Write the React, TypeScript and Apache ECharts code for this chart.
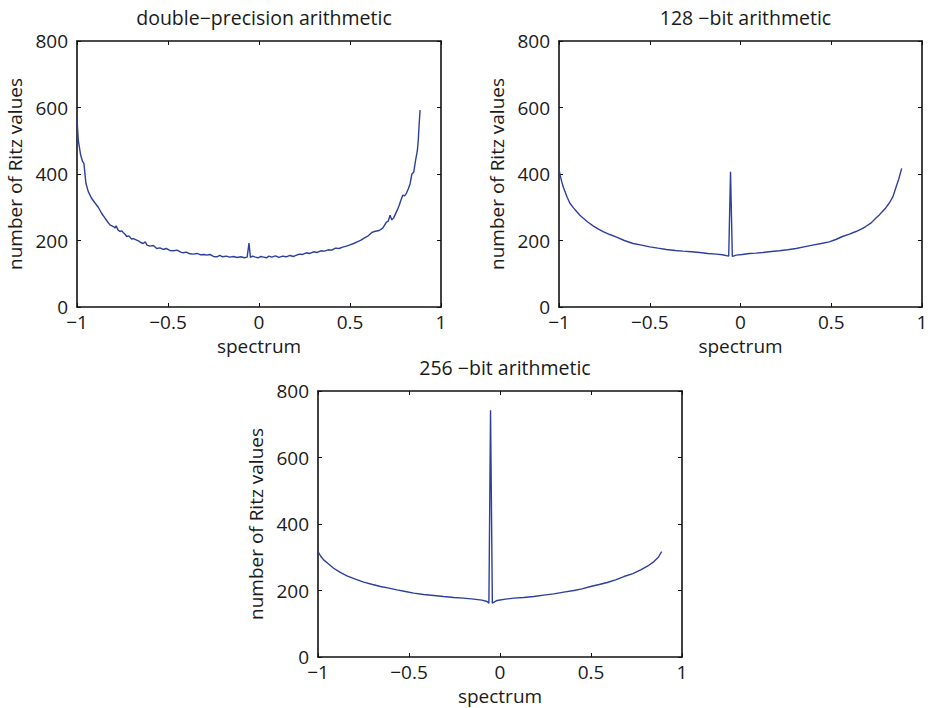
import React, { useEffect, useRef } from "react";
import * as echarts from "echarts";

const titles = ["double\u2212precision arithmetic", "128 \u2212bit arithmetic", "256 \u2212bit arithmetic"];
const xAxisName = "spectrum";
const yAxisName = "number of Ritz values";
const xTicks = [-1, -0.5, 0, 0.5, 1];
const yTicks = [0, 200, 400, 600, 800];

const doubleX = [
  -1.0, -0.993, -0.98, -0.969, -0.962, -0.951, -0.938, -0.92, -0.9, -0.883, -0.865, -0.846, -0.83, -0.819,
  -0.8, -0.79, -0.785, -0.775, -0.764, -0.755, -0.746, -0.735, -0.727, -0.715, -0.7, -0.69, -0.672, -0.66,
  -0.65, -0.636, -0.625, -0.615, -0.6, -0.58, -0.562, -0.545, -0.526, -0.51, -0.49, -0.471, -0.45, -0.43,
  -0.416, -0.4, -0.38, -0.361, -0.34, -0.32, -0.3, -0.287, -0.27, -0.25, -0.232, -0.215, -0.2, -0.18, -0.16,
  -0.14, -0.12, -0.1, -0.08, -0.065, -0.055, -0.047, -0.035, -0.02, -0.005, 0.01, 0.025, 0.04, 0.055, 0.07,
  0.09, 0.11, 0.13, 0.15, 0.17, 0.19, 0.21, 0.225, 0.24, 0.26, 0.28, 0.3, 0.32, 0.34, 0.36, 0.38, 0.4, 0.42,
  0.44, 0.46, 0.48, 0.5, 0.52, 0.54, 0.56, 0.58, 0.6, 0.62, 0.64, 0.66, 0.68, 0.7, 0.71, 0.72, 0.73, 0.74,
  0.75, 0.76, 0.77, 0.78, 0.79, 0.8, 0.81, 0.82, 0.83, 0.84, 0.85, 0.86, 0.87, 0.875, 0.88, 0.885,
];
const doubleY = [
  567, 502, 457, 437, 432, 372, 347, 327, 312, 300, 282, 267, 255, 247,
  242, 238, 244, 232, 227, 229, 224, 218, 212, 214, 204, 206, 201, 198,
  194, 191, 196, 186, 183, 185, 176, 178, 173, 176, 170, 169, 171, 165,
  163, 165, 160, 159, 161, 157, 158, 156, 158, 152, 151, 155, 151, 153, 150,
  152, 149, 151, 148, 150, 192, 149, 153, 150, 148, 152, 150, 148, 153, 150,
  154, 149, 153, 151, 155, 152, 157, 159, 158, 163, 161, 166, 164, 169, 168, 172, 171, 177,
  176, 180, 183, 187, 191, 196, 201, 208, 214, 224, 228, 230, 237, 255, 258, 276, 262, 268,
  280, 292, 305, 322, 336, 334, 342, 355, 370, 400, 405, 440, 470, 500, 550, 592,
];

const bit128X = [
  -1.0, -0.993, -0.985, -0.976, -0.967, -0.955, -0.94, -0.92, -0.903, -0.885, -0.866, -0.84, -0.812, -0.785,
  -0.757, -0.72, -0.683, -0.64, -0.592, -0.545, -0.5, -0.455, -0.408, -0.36, -0.317, -0.27, -0.225, -0.18,
  -0.134, -0.1, -0.065, -0.055, -0.045, -0.035, -0.024, 0.01, 0.049, 0.085, 0.123, 0.17, 0.214, 0.26, 0.306,
  0.35, 0.397, 0.445, 0.489, 0.525, 0.562, 0.6, 0.636, 0.665, 0.69, 0.72, 0.745, 0.765, 0.782, 0.8, 0.819,
  0.84, 0.855, 0.872, 0.888,
];
const bit128Y = [
  414, 395, 377, 360, 347, 330, 312, 298, 287, 276, 267, 255, 244, 235,
  227, 218, 210, 200, 191, 186, 181, 177, 173, 170, 168, 166, 164, 161,
  159, 157, 153, 407, 152, 154, 156, 158, 161, 162, 164, 167, 169, 172, 176,
  181, 186, 191, 196, 203, 212, 219, 227, 234, 242, 253, 267, 277, 287, 298, 312,
  332, 357, 385, 417,
];

const bit256X = [
  -1.0, -0.985, -0.969, -0.94, -0.914, -0.88, -0.841, -0.795, -0.749, -0.7, -0.657, -0.61, -0.566, -0.52,
  -0.474, -0.42, -0.364, -0.31, -0.254, -0.2, -0.144, -0.1, -0.071, -0.061, -0.052, -0.042, -0.03, -0.016,
  0.03, 0.076, 0.13, 0.186, 0.24, 0.296, 0.35, 0.406, 0.45, 0.498, 0.545, 0.589, 0.635, 0.681, 0.73, 0.773,
  0.81, 0.846, 0.87, 0.888,
];
const bit256Y = [
  317, 303, 292, 279, 267, 255, 244, 234, 225, 218, 212, 207, 202, 197,
  192, 188, 185, 182, 179, 177, 174, 171, 167, 162, 742, 162, 166, 170,
  174, 177, 179, 182, 186, 190, 195, 200, 205, 212, 218, 224, 232, 242, 251, 262,
  273, 287, 300, 317,
];

const xs = [doubleX, bit128X, bit256X];
const ys = [doubleY, bit128Y, bit256Y];

const grids = [
  { left: 77, top: 41, width: 364, height: 266 },
  { left: 559, top: 41, width: 363, height: 266 },
  { left: 318, top: 391, width: 364, height: 266 },
];
const titleTops = [2, 2, 352];

const FONT = "'Open Sans', sans-serif";
const TEXT = "#1a1a1a";
const LINE = "#2c3f9f";

const fmt = (v: number) => (v < 0 ? "\u2212" + String(-v) : String(v));

export default function App() {
  const ref = useRef<HTMLDivElement>(null);
  useEffect(() => {
    if (!ref.current) return;
    const chart = echarts.init(ref.current, undefined, { renderer: "svg" });
    const axisLine = { show: true, onZero: false, lineStyle: { color: "#111", width: 1.6 } };
    const tick = { show: true, inside: true, length: 4, lineStyle: { color: "#111", width: 1 } };
    const xAxes: any[] = [];
    const yAxes: any[] = [];
    const series: any[] = [];
    grids.forEach((g, i) => {
      xAxes.push({
        type: "value", gridIndex: i, position: "bottom", min: xTicks[0], max: xTicks[xTicks.length - 1],
        interval: xTicks[1] - xTicks[0], axisLine, axisTick: tick, splitLine: { show: false },
        axisLabel: { formatter: fmt, fontSize: 19, lineHeight: 17, color: TEXT, fontFamily: FONT, margin: 6 },
        name: xAxisName, nameLocation: "middle", nameGap: 30,
        nameTextStyle: { fontSize: 19, lineHeight: 17, color: TEXT, fontFamily: FONT },
      });
      xAxes.push({
        type: "value", gridIndex: i, position: "top", min: xTicks[0], max: xTicks[xTicks.length - 1],
        interval: xTicks[1] - xTicks[0], axisLine, axisTick: tick, splitLine: { show: false },
        axisLabel: { show: false },
      });
      yAxes.push({
        type: "value", gridIndex: i, position: "left", min: yTicks[0], max: yTicks[yTicks.length - 1],
        interval: yTicks[1] - yTicks[0], axisLine, axisTick: tick, splitLine: { show: false },
        axisLabel: { formatter: fmt, fontSize: 19, color: TEXT, fontFamily: FONT, margin: 9 },
        name: yAxisName, nameLocation: "middle", nameGap: 53,
        nameTextStyle: { fontSize: 19, color: TEXT, fontFamily: FONT },
      });
      yAxes.push({
        type: "value", gridIndex: i, position: "right", min: yTicks[0], max: yTicks[yTicks.length - 1],
        interval: yTicks[1] - yTicks[0], axisLine, axisTick: tick, splitLine: { show: false },
        axisLabel: { show: false },
      });
      series.push({
        type: "line", xAxisIndex: i * 2, yAxisIndex: i * 2, showSymbol: false, symbol: "none",
        lineStyle: { color: LINE, width: 1.4 },
        data: xs[i].map((x, k) => [x, ys[i][k]]),
      });
    });
    chart.setOption({
      animation: false,
      backgroundColor: "#fff",
      title: titles.map((t, i) => ({
        text: t, left: grids[i].left + grids[i].width / 2, top: titleTops[i], textAlign: "center",
        textStyle: { fontSize: 19.5, fontWeight: "normal", color: TEXT, fontFamily: FONT },
      })),
      grid: grids.map((g) => ({ ...g, containLabel: false })),
      xAxis: xAxes,
      yAxis: yAxes,
      series,
    });
    return () => chart.dispose();
  }, []);
  return (
    <div
      ref={ref}
      style={{ position: "fixed", left: 0, top: 0, width: 931, height: 708, background: "#fff" }}
    />
  );
}
